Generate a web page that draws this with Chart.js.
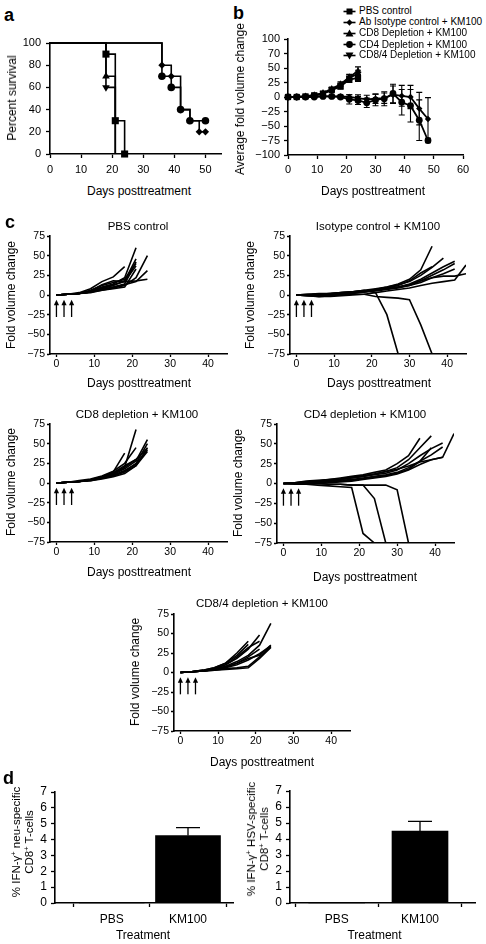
<!DOCTYPE html>
<html><head><meta charset="utf-8">
<script src="https://cdn.jsdelivr.net/npm/chart.js@4.4.0/dist/chart.umd.min.js"></script>
<style>
html,body{margin:0;padding:0;background:#fff}
body{width:486px;height:944px;position:relative;overflow:hidden;font-family:"Liberation Sans",Arial,Helvetica,sans-serif;color:#000}
canvas{position:absolute}
.t{position:absolute;white-space:nowrap;line-height:1;transform:translate(-50%,-50%);text-align:center}
.r{transform:translate(-50%,-50%) rotate(-90deg)}
.p{position:absolute;font-weight:bold;font-size:18px;line-height:18px}
.lg{position:absolute;font-size:10px;line-height:10px;white-space:nowrap}
sup{font-size:65%;line-height:0;vertical-align:0.55em}
</style></head><body>
<script>
// ---------- DATA ----------
// Panel a: Kaplan-Meier survival
const survDaysPBS = [0, 18, 21, 24];
const survPBS = [100, 90, 30, 0];
const survDaysIso = [0, 36, 39, 42, 45, 48, 50];
const survIso = [100, 80, 70, 40, 30, 20, 20];
const survDaysCD8 = [0, 18, 21];
const survCD8 = [100, 70, 0];
const survDaysCD4 = [0, 36, 39, 42, 45, 50];
const survCD4 = [100, 70, 60, 40, 30, 30];
const survDaysCD84 = [0, 18, 21];
const survCD84 = [100, 60, 0];
const aXTicks = [0, 10, 20, 30, 40, 50];
const aYTicks = [0, 20, 40, 60, 80, 100];

// Panel b: average fold volume change (mean, error)
const bDaysShort = [0, 3, 6, 9, 12, 15, 18, 21, 24];
const bPBS = [0, 0, 1, 3, 6, 12, 18, 30, 33];
const bPBSErr = [0.5, 0.5, 1, 1.5, 2, 3, 4, 5, 6];
const bCD8 = [0, 0, 1, 3, 7, 14, 22, 34, 45];
const bCD8Err = [0.5, 0.5, 1, 1.5, 2, 3, 4, 5, 7];
const bCD84 = [0, 0, 1, 3, 6, 13, 20, 33, 40];
const bCD84Err = [0.5, 0.5, 1, 1.5, 2, 3, 4, 5, 6];
const bDaysLong = [0, 3, 6, 9, 12, 15, 18, 21, 24, 27, 30, 33, 36, 39, 42, 45, 48];
const bIso = [0, 0, 0, 1, 1, 1, 1, 0, -2, -4, -3, -2, 4, 2, 0, -20, -38];
const bIsoErr = [0.5, 0.5, 1, 1, 1.5, 2, 2, 4, 6, 7, 8, 9, 15, 18, 20, 28, 37];
const bCD4 = [0, 0, 0, 0, 1, 1, 0, -4, -6, -10, -5, -3, 6, -9, -15, -40, -75];
const bCD4Err = [0.5, 0.5, 1, 1, 1.5, 2, 3, 8, 7, 8, 10, 12, 16, 22, 28, 35, 4];
const bXTicks = [0, 10, 20, 30, 40, 50, 60];
const bYTicks = [-100, -75, -50, -25, 0, 25, 50, 75, 100];
const bYTickLabels = ['\u2212100', '\u221275', '\u221250', '\u221225', '0', '25', '50', '70', '100'];
const bLegend = ['PBS control', 'Ab Isotype control + KM100', 'CD8 Depletion + KM100', 'CD4 Depletion + KM100', 'CD8/4 Depletion + KM100'];

// Panel c: individual mice, measured every 3 days
const cDays = [0, 3, 6, 9, 12, 15, 18, 21, 24, 27, 30, 33, 36, 39, 42, 45];
const cPBS = [
  [0, 1, 2, 5, 10, 14, 22, 60],
  [0, 1, 2, 4, 8, 12, 18, 46],
  [0, 1, 3, 8, 17, 23, 36],
  [0, 1, 2, 4, 7, 10, 14, 42],
  [0, 1, 2, 5, 9, 13, 17, 37],
  [0, 1, 2, 4, 6, 9, 12, 22, 50],
  [0, 1, 2, 4, 7, 10, 13, 17, 31],
  [0, 1, 2, 5, 13, 18, 17, 18, 20],
  [0, 1, 2, 3, 6, 8, 10, 33],
  [0, 1, 2, 6, 12, 16, 20, 40]
];
const cIso = [
  [0, 0, 1, 1, 2, 3, 5, 7, 10, 14, 20, 32, 62],
  [0, -1, -1, 0, 1, 2, 4, 6, 9, 12, 18, 28, 36],
  [0, 1, 1, 2, 3, 4, 6, 8, 10, 13, 17, 25, 35, 47],
  [0, 0, 0, 1, 2, 3, 4, 6, 8, 10, 14, 20, 28, 36, 43],
  [0, 0, 1, 1, 2, 3, 4, 5, 7, 9, 12, 18, 25, 32, 40],
  [0, 1, 2, 2, 3, 4, 5, 7, 8, 10, 12, 16, 22, 27, 33],
  [0, -1, -2, -2, -1, 0, 1, 3, 5, 7, 9, 12, 15, 17, 19, 38],
  [0, 0, 1, 2, 3, 4, 5, 6, 8, 10, 13, 18, 22, 24, 24, 27],
  [0, 0, 1, 1, 2, 4, 6, 3, -25, -75],
  [0, -1, -2, -1, 0, 1, 1, -2, -3, -4, -6, -38, -75]
];
const cCD8 = [
  [0, 1, 2, 4, 7, 12, 20, 68],
  [0, 1, 3, 5, 9, 15, 25, 45],
  [0, 1, 2, 4, 8, 14, 38],
  [0, 1, 2, 4, 7, 11, 18, 28, 55],
  [0, 1, 2, 4, 6, 10, 15, 25, 50],
  [0, 1, 2, 3, 6, 9, 14, 22, 45],
  [0, 1, 2, 4, 7, 10, 16, 24, 42],
  [0, 1, 2, 3, 5, 8, 12, 22, 40],
  [0, 1, 2, 4, 7, 12, 20, 30, 44],
  [0, 1, 2, 4, 8, 13, 22, 30]
];
const cCD4 = [
  [0, 1, 2, 3, 5, 7, 9, 11, 14, 17, 25, 35, 57],
  [0, 0, 1, 2, 3, 5, 7, 9, 12, 15, 20, 30, 45, 60],
  [0, 1, 2, 3, 4, 5, 7, 9, 11, 13, 17, 25, 35, 44, 51],
  [0, 0, 1, 2, 3, 4, 5, 7, 9, 11, 14, 20, 28, 36, 46],
  [0, -1, -1, 0, 1, 2, 3, 5, 7, 9, 12, 17, 24, 30, 33, 63],
  [0, 1, 3, 4, 5, 6, 8, 10, 12, 15, 18, 22, 27, 30, 33],
  [0, 0, 1, 1, 2, 3, 4, 6, 8, 10, 13, 18, 28, 45],
  [0, 0, -1, -2, -3, -4, -5, -63, -75],
  [0, 0, 1, 0, -1, -1, -2, -2, -19, -75],
  [0, 1, 0, 0, -1, -1, -2, -2, -2, -2, -8, -75]
];
const cCD84 = [
  [0, 1, 2, 4, 8, 14, 22, 35, 63],
  [0, 1, 2, 5, 10, 18, 30, 48],
  [0, 1, 3, 6, 12, 25, 40],
  [0, 1, 3, 6, 12, 22, 36],
  [0, 1, 2, 5, 10, 20, 32, 40],
  [0, 1, 2, 4, 7, 12, 18, 22, 35],
  [0, 1, 2, 3, 5, 6, 8, 20, 33],
  [0, 1, 2, 4, 7, 12, 20, 30],
  [0, 1, 2, 4, 6, 10, 16, 24, 34],
  [0, 1, 2, 3, 4, 5, 6, 18, 32]
];
const cArrowDays = [0, 2, 4];
const cXTicks = [0, 10, 20, 30, 40];
const cYTicks = [-75, -50, -25, 0, 25, 50, 75];
const cYTickLabels = ['\u221275', '\u221250', '\u221225', '0', '25', '50', '75'];

// Panel d: IFN-gamma+ CD8+ T cells
const dCategories = ['PBS', 'KM100'];
const dNeu = [0, 4.25];
const dNeuErr = [0, 0.5];
const dHSV = [0, 4.5];
const dHSVErr = [0, 0.6];
const dYTicks = [0, 1, 2, 3, 4, 5, 6, 7];

// ---------- HELPERS ----------
const FONT = '"Liberation Sans", Arial, Helvetica, sans-serif';
const PADL = 48, PADT = 12, PADR = 14, PADB = 30;

const errorBars = {
  id: 'errbars',
  afterDatasetsDraw(chart) {
    const ctx = chart.ctx, ys = chart.scales.y;
    chart.data.datasets.forEach((ds, i) => {
      if (!ds.errors) return;
      const meta = chart.getDatasetMeta(i);
      ctx.save();
      ctx.strokeStyle = '#000';
      ctx.lineWidth = ds.errWidth || 1.2;
      meta.data.forEach((el, j) => {
        const e = ds.errors[j];
        if (!e) return;
        const v = ds.data[j].y;
        const x = el.x;
        const yT = ys.getPixelForValue(v + e);
        const yB = ys.getPixelForValue(ds.upperOnly ? v : v - e);
        const hw = ds.capHalf || 3;
        ctx.beginPath();
        ctx.moveTo(x, yT); ctx.lineTo(x, yB);
        ctx.moveTo(x - hw, yT); ctx.lineTo(x + hw, yT);
        if (!ds.upperOnly) { ctx.moveTo(x - hw, yB); ctx.lineTo(x + hw, yB); }
        ctx.stroke();
      });
      ctx.restore();
    });
  }
};
const arrows = {
  id: 'arrows',
  afterDatasetsDraw(chart, args, opts) {
    if (!opts || !opts.days) return;
    const ctx = chart.ctx, xs = chart.scales.x, ys = chart.scales.y;
    ctx.save();
    ctx.strokeStyle = '#000'; ctx.fillStyle = '#000'; ctx.lineWidth = 1.3;
    opts.days.forEach(d => {
      const x = xs.getPixelForValue(d);
      const y1 = ys.getPixelForValue(opts.from), y2 = ys.getPixelForValue(opts.to);
      ctx.beginPath(); ctx.moveTo(x, y1); ctx.lineTo(x, y2 + 4); ctx.stroke();
      ctx.beginPath(); ctx.moveTo(x, y2); ctx.lineTo(x - 2.6, y2 + 5.5); ctx.lineTo(x + 2.6, y2 + 5.5); ctx.closePath(); ctx.fill();
    });
    ctx.restore();
  }
};
Chart.register(errorBars, arrows);

function axis(horiz, min, max, tickVals, labels, fs, tl, pad) {
  return {
    type: 'linear', min: min, max: max, offset: false,
    afterFit: s => { if (horiz) s.height = PADB; else s.width = PADL; },
    afterBuildTicks: s => { s.ticks = tickVals.map(v => ({ value: v })); },
    ticks: {
      autoSkip: false, maxRotation: 0, color: '#000', padding: pad,
      font: { family: FONT, size: fs },
      callback: (v) => { const k = tickVals.indexOf(v); return labels ? labels[k] : String(v); }
    },
    grid: { display: true, drawOnChartArea: false, drawTicks: true, tickLength: tl, tickWidth: 1.3, tickColor: '#000', color: '#000' },
    border: { display: true, color: '#000', width: 1.6 }
  };
}

function mk(l, t, r, b, cfg) {
  l = Math.round(l); t = Math.round(t); r = Math.round(r); b = Math.round(b);
  const cv = document.createElement('canvas');
  const W = r - l + PADL + PADR, H = b - t + PADT + PADB;
  cv.width = W; cv.height = H;
  cv.style.left = (l - PADL) + 'px'; cv.style.top = (t - PADT) + 'px';
  cv.style.width = W + 'px'; cv.style.height = H + 'px';
  document.body.appendChild(cv);
  const base = {
    responsive: false, animation: false, devicePixelRatio: 1, events: [],
    layout: { padding: { top: PADT, right: PADR, left: 0, bottom: 0 } }
  };
  cfg.options = Object.assign(base, cfg.options);
  cfg.options.plugins = Object.assign({ legend: { display: false }, tooltip: { enabled: false } }, cfg.options.plugins || {});
  return new Chart(cv, cfg);
}

function txt(html, x, y, size, rot, extra) {
  const d = document.createElement('div');
  d.className = 't' + (rot ? ' r' : '');
  d.style.left = x + 'px'; d.style.top = y + 'px'; d.style.fontSize = size + 'px';
  if (extra) Object.assign(d.style, extra);
  d.innerHTML = html;
  document.body.appendChild(d);
}
function panelLetter(s, x, y) {
  const d = document.createElement('div');
  d.className = 'p'; d.style.left = x + 'px'; d.style.top = y + 'px'; d.textContent = s;
  document.body.appendChild(d);
}

// ---------- PANEL A ----------
function stepDs(days, vals, style, r, rot, hideZero) {
  return {
    data: days.map((d, i) => ({ x: d, y: vals[i] })),
    stepped: true, borderColor: '#000', borderWidth: 1.6, backgroundColor: '#000',
    pointBackgroundColor: '#000', pointBorderColor: '#000', pointBorderWidth: 0,
    pointStyle: style, pointRotation: rot || 0,
    pointRadius: vals.map((v, i) => (i === 0 || (hideZero && v === 0)) ? 0 : r),
    clip: false, fill: false, tension: 0
  };
}
mk(50, 43, 221, 154, {
  type: 'line',
  data: { datasets: [
    stepDs(survDaysIso, survIso, 'rectRot', 3.6, 0, false),
    stepDs(survDaysCD4, survCD4, 'circle', 3.8, 0, false),
    stepDs(survDaysPBS, survPBS, 'rect', 5, 0, false),
    stepDs(survDaysCD8, survCD8, 'triangle', 4.4, 0, true),
    stepDs(survDaysCD84, survCD84, 'triangle', 4.4, 180, true)
  ]},
  options: { scales: {
    x: axis(true, 0, 55, aXTicks, null, 11, 4, 5),
    y: axis(false, 0, 100, aYTicks, null, 11, 4, 5)
  }}
});
panelLetter('a', 4, 6);
txt('Percent survival', 12, 98, 12, true);
txt('Days posttreatment', 139, 191, 12);

// ---------- PANEL B ----------
function meanDs(days, vals, errs, style, r, rot) {
  return {
    data: days.map((d, i) => ({ x: d, y: vals[i] })), errors: errs, capHalf: 3, errWidth: 1.1,
    borderColor: '#000', borderWidth: 1.8, backgroundColor: '#000',
    pointBackgroundColor: '#000', pointBorderColor: '#000', pointBorderWidth: 0,
    pointStyle: style, pointRotation: rot || 0, pointRadius: r, clip: false, fill: false, tension: 0
  };
}
mk(288, 39, 463, 155, {
  type: 'line',
  data: { datasets: [
    meanDs(bDaysShort, bPBS, bPBSErr, 'rect', 4.4),
    meanDs(bDaysLong, bIso, bIsoErr, 'rectRot', 3.2),
    meanDs(bDaysShort, bCD8, bCD8Err, 'triangle', 4),
    meanDs(bDaysLong, bCD4, bCD4Err, 'circle', 3.4),
    meanDs(bDaysShort, bCD84, bCD84Err, 'triangle', 4, 180)
  ]},
  options: { scales: {
    x: axis(true, 0, 60, bXTicks, null, 11, 4, 4),
    y: axis(false, -100, 100, bYTicks, bYTickLabels, 11, 4, 4)
  }}
});
panelLetter('b', 233, 4);
txt('Average fold volume change', 240, 99, 12, true);
txt('Days posttreatment', 373, 191, 12);
// legend
const legIcons = [
  '<rect x="3" y="1.5" width="6" height="6"/>',
  '<polygon points="6,1.2 9,4.5 6,7.8 3,4.5"/>',
  '<polygon points="6,0.5 10,7.5 2,7.5"/>',
  '<circle cx="6" cy="4.5" r="3.4"/>',
  '<polygon points="6,8.5 10,1.5 2,1.5"/>'
];
const legY = [11, 22, 33.3, 44.7, 55.3];
bLegend.forEach((s, i) => {
  const d = document.createElement('div');
  d.className = 'lg';
  d.style.left = '343px'; d.style.top = (legY[i] - 5) + 'px';
  d.innerHTML = '<svg width="13" height="9" style="position:absolute;left:0;top:0.5px" viewBox="0 0 12 9"><line x1="0" y1="4.5" x2="12" y2="4.5" stroke="#000" stroke-width="1.6"/>' + legIcons[i].replace('/>', ' fill="#000"/>') + '</svg><span style="position:absolute;left:16px;top:0">' + s + '</span>';
  document.body.appendChild(d);
});

// ---------- PANEL C ----------
function miceDs(mice) {
  return mice.map(m => ({
    data: m.map((v, i) => ({ x: cDays[i], y: v })),
    borderColor: '#000', borderWidth: 1.6, pointRadius: 0, fill: false, tension: 0
  }));
}
function cChart(mice, x0, top, bottom) {
  const ppd = 3.785;
  mk(x0 - 1.7 * ppd, top, x0 + 45 * ppd, bottom, {
    type: 'line',
    data: { datasets: miceDs(mice) },
    options: {
      plugins: { arrows: { days: cArrowDays, from: -28, to: -6 } },
      scales: {
        x: axis(true, -1.7, 45, cXTicks, null, 10.5, 3, 1),
        y: axis(false, -75, 75, cYTicks, cYTickLabels, 10.5, 3, 2)
      }
    }
  });
}
cChart(cPBS, 56.7, 236, 354);
cChart(cIso, 296, 236, 354);
cChart(cCD8, 56.3, 424, 542);
cChart(cCD4, 283.3, 424, 542.5);
cChart(cCD84, 180, 614, 731);
panelLetter('c', 5, 213);
txt('PBS control', 138, 227, 11.5);
txt('Isotype control + KM100', 378, 227, 11.5);
txt('CD8 depletion + KM100', 137, 415, 11.5);
txt('CD4 depletion + KM100', 365, 415, 11.5);
txt('CD8/4 depletion + KM100', 262, 604, 11.5);
txt('Fold volume change', 11, 295, 12, true);
txt('Fold volume change', 250, 295, 12, true);
txt('Fold volume change', 11, 482, 12, true);
txt('Fold volume change', 238, 483, 12, true);
txt('Fold volume change', 135, 672, 12, true);
txt('Days posttreatment', 139, 383, 12);
txt('Days posttreatment', 379, 383, 12);
txt('Days posttreatment', 139, 572, 12);
txt('Days posttreatment', 365, 577, 12);
txt('Days posttreatment', 262, 762, 12);

// ---------- PANEL D ----------
function barChart(l, r, top, bottom, x0, ppu, vals, errs, thick) {
  const min = (l - x0) / ppu, max = (r - x0) / ppu;
  mk(l, top, r, bottom, {
    type: 'bar',
    data: { datasets: [{
      data: vals.map((v, i) => ({ x: i, y: v })), errors: errs, upperOnly: true, capHalf: 12, errWidth: 1.3,
      backgroundColor: '#000', borderWidth: 0, barThickness: thick, clip: false
    }]},
    options: { scales: {
      x: axis(true, min, max, [0, 1], dCategories, 12, 4, 5),
      y: axis(false, 0, 7, dYTicks, null, 12, 4, 4)
    }}
  });
}
barChart(55, 233, 792, 903, 111.7, 76.3, dNeu, dNeuErr, 65);
barChart(290, 475, 791, 903, 336.7, 83.3, dHSV, dHSVErr, 56);
panelLetter('d', 3, 769);
txt('% IFN-\u03b3<sup>+</sup> neu-specific<br>CD8<sup>+</sup> T-cells', 22.5, 842, 11.5, true, { lineHeight: '13px' });
txt('% IFN-\u03b3<sup>+</sup> HSV-specific<br>CD8<sup>+</sup> T-cells', 257.5, 839, 11.5, true, { lineHeight: '13px' });
txt('Treatment', 143, 935, 12);
txt('Treatment', 374.5, 935, 12);
</script>
</body></html>
